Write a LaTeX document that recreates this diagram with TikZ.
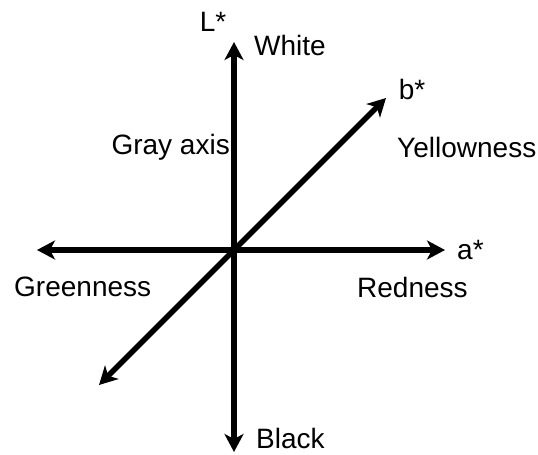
\documentclass[tikz,border=0pt]{standalone}
\usepackage{fontspec}
\setmainfont{Liberation Sans}
\usetikzlibrary{arrows.meta}
\begin{document}
\begin{tikzpicture}[x=1pt,y=-1pt,
  axis/.style={line width=5.5pt,{Stealth[length=18pt,width=19pt,inset=5pt]}-{Stealth[length=18pt,width=19pt,inset=5pt]}},
  lbl/.style={inner sep=0pt,font=\fontsize{28}{30}\selectfont}]
\useasboundingbox (0,0) rectangle (538,455);
\coordinate (Ltop) at (234,42);
\coordinate (Lbot) at (234,452);
\coordinate (aL) at (37,250);
\coordinate (aR) at (445,250);
\coordinate (bTR) at (386,98);
\coordinate (bBL) at (99,385);
\draw[axis] (Lbot) -- (Ltop);
\draw[axis] (aL) -- (aR);
\draw[axis] (bBL) -- (bTR);
\node[lbl] (Lstar) at (213,22) {L*};
\node[lbl,anchor=west] (white) at (254,45) {White};
\node[lbl] (bstar) at (412,89) {b*};
\node[lbl,anchor=west] (yellow) at (397,147) {Yellowness};
\node[lbl,anchor=east] (gray) at (230,147) {Gray axis};
\node[lbl,anchor=west] (astar) at (457,250) {a*};
\node[lbl,anchor=west] (green) at (14,287) {Greenness};
\node[lbl,anchor=west] (red) at (357,287) {Redness};
\node[lbl,anchor=west] (black) at (256,438) {Black};
\end{tikzpicture}
\end{document}
